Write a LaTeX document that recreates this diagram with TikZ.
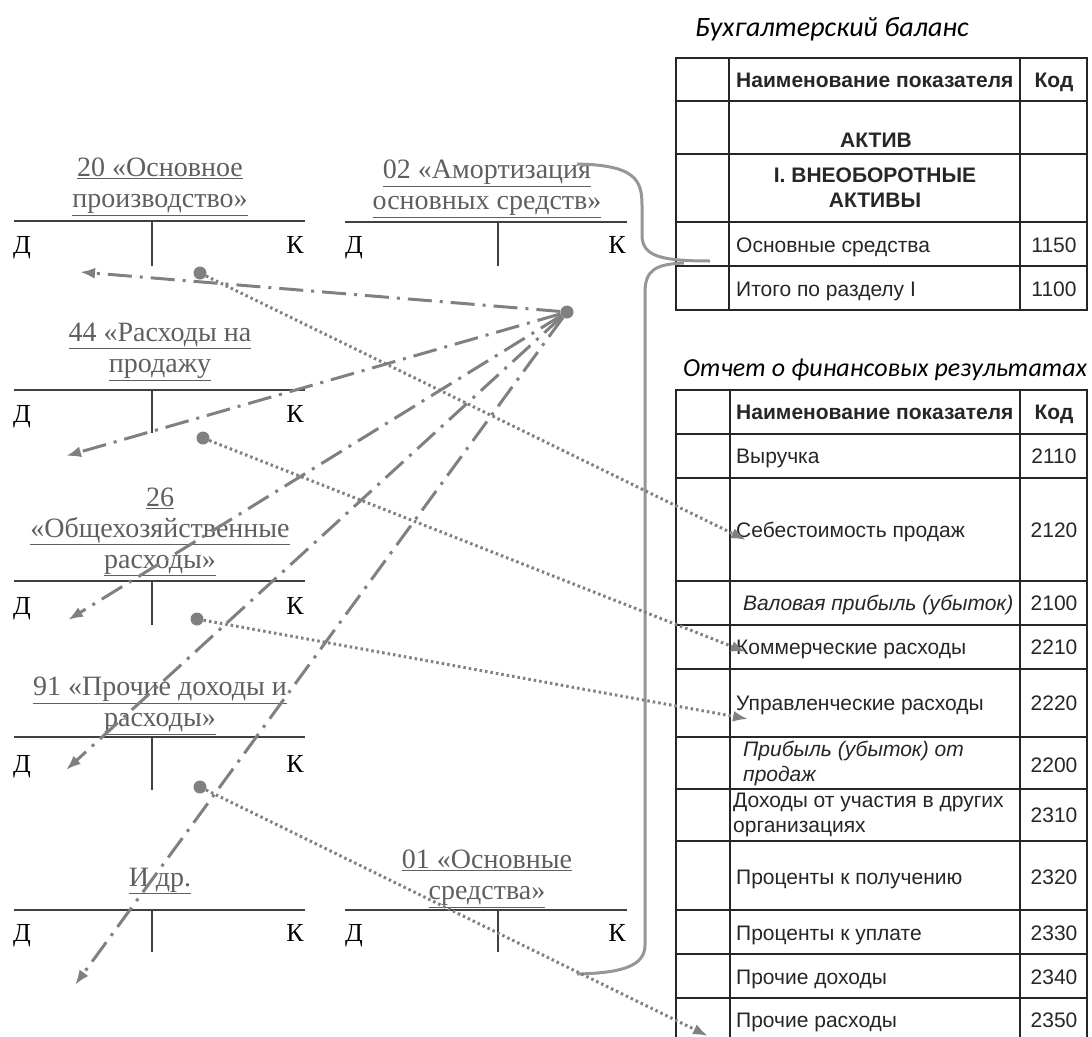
\documentclass[tikz,border=0pt]{standalone}
\usepackage{fontspec}
\setmainfont{Liberation Serif}
\newfontfamily\tablefont{Liberation Sans}
\newfontfamily\capfont{Carlito}
\usetikzlibrary{arrows.meta}
\definecolor{arrowgray}{RGB}{128,128,128}
\definecolor{titlegray}{RGB}{95,95,95}
\definecolor{bracegray}{RGB}{150,150,150}
\tikzset{
  acctitle/.style={align=center, text=titlegray, font=\fontsize{28}{31}\selectfont, inner sep=0pt},
  dk/.style={font=\fontsize{26}{30}\selectfont, inner sep=0pt, anchor=base},
  tline/.style={line width=2pt, draw=black!75},
  grid/.style={line width=1.6pt, draw=black!85},
  cell/.style={font=\tablefont\fontsize{21}{25}\selectfont, anchor=base west, inner sep=0pt, text=black!85},
  twocell/.style={font=\tablefont\fontsize{21}{25}\selectfont, anchor=west, inner sep=0pt, text=black!85, align=left},
  bcell/.style={font=\tablefont\bfseries\fontsize{21}{25}\selectfont, inner sep=0pt, text=black!85, align=center},
  icell/.style={font=\tablefont\itshape\fontsize{21}{25}\selectfont, anchor=base west, inner sep=0pt, text=black!85},
  twoicell/.style={font=\tablefont\itshape\fontsize{21}{25}\selectfont, anchor=west, inner sep=0pt, text=black!85, align=left},
  code/.style={font=\tablefont\fontsize{21}{25}\selectfont, inner sep=0pt, text=black!85, anchor=base},
  caption/.style={font=\capfont\itshape\fontsize{28}{30}\selectfont, anchor=base west, inner sep=0pt},
  dashdot/.style={line width=3pt, draw=arrowgray, dash pattern=on 24pt off 8pt on 3pt off 8pt, -{Latex[length=15pt,width=11pt]}},
  dots/.style={line width=3pt, draw=arrowgray, dash pattern=on 2.5pt off 3pt, -{Latex[length=15pt,width=11pt]}},
  dot/.style={circle, fill=arrowgray, inner sep=0pt, minimum size=13pt},
  brace/.style={line width=3pt, draw=bracegray}
}
\begin{document}
\begin{tikzpicture}[x=1pt,y=-1pt]
\useasboundingbox (0,0) rectangle (1092,1036);

%Accounts
\node[acctitle] (t20) at (160,187) {\underline{20 «Основное}\\\underline{производство»}};
\node[acctitle] (t02) at (487,189) {\underline{02 «Амортизация}\\\underline{основных средств»}};
\node[acctitle] (t44) at (160,352) {\underline{44 «Расходы на}\\\underline{продажу}};
\node[acctitle] (t26) at (160,532) {\underline{26}\\\underline{«Общехозяйственные}\\\underline{расходы»}};
\node[acctitle] (t91) at (160,706) {\underline{91 «Прочие доходы и}\\\underline{расходы»}};
\node[acctitle] (tdr) at (160,881) {\underline{И др.}};
\node[acctitle] (t01) at (487,879) {\underline{01 «Основные}\\\underline{средства»}};

\node[dk] (d20) at (22,253) {Д};
\node[dk] (k20) at (295,253) {К};
\node[dk] (d02) at (354,253) {Д};
\node[dk] (k02) at (617,253) {К};
\node[dk] (d44) at (22,422) {Д};
\node[dk] (k44) at (295,422) {К};
\node[dk] (d26) at (22,614) {Д};
\node[dk] (k26) at (295,614) {К};
\node[dk] (d91) at (22,772) {Д};
\node[dk] (k91) at (295,772) {К};
\node[dk] (ddr) at (22,941) {Д};
\node[dk] (kdr) at (295,941) {К};
\node[dk] (d01) at (354,941) {Д};
\node[dk] (k01) at (617,941) {К};

\draw[tline] (14,221) -- (305,221);
\draw[tline] (152,221) -- (152,266);
\draw[tline] (345,222) -- (627,222);
\draw[tline] (498,222) -- (498,266);
\draw[tline] (14,390) -- (305,390);
\draw[tline] (152,390) -- (152,433);
\draw[tline] (14,581) -- (305,581);
\draw[tline] (152,581) -- (152,625);
\draw[tline] (14,737) -- (305,737);
\draw[tline] (152,737) -- (152,790);
\draw[tline] (14,910) -- (305,910);
\draw[tline] (152,910) -- (152,952);
\draw[tline] (345,910) -- (627,910);
\draw[tline] (498,910) -- (498,952);

%Balance
\node[caption] (cap1) at (695,36) {Бухгалтерский баланс};
\draw[grid] (676,58) rectangle (1087,310);
\draw[grid] (729,58) -- (729,310);
\draw[grid] (1020,58) -- (1020,310);
\draw[grid] (676,101) -- (1087,101);
\draw[grid] (676,154) -- (1087,154);
\draw[grid] (676,222) -- (1087,222);
\draw[grid] (676,266) -- (1087,266);
\node[bcell, anchor=base west] (h1) at (736,87) {Наименование показателя};
\node[bcell, anchor=base] (hk1) at (1054,87) {Код};
\node[bcell, anchor=base] (aktiv) at (876,147) {АКТИВ};
\node[bcell] (razd1) at (875,188) {I. ВНЕОБОРОТНЫЕ\\АКТИВЫ};
\node[cell] (os) at (736,252) {Основные средства};
\node[code] (c1150) at (1054,252) {1150};
\node[cell] (itogo) at (736,296) {Итого по разделу I};
\node[code] (c1100) at (1054,296) {1100};

%Results
\node[caption, font=\capfont\itshape\fontsize{26}{30}\selectfont] (cap2) at (683,376) {Отчет о финансовых результатах};
\draw[grid] (676,1040) -- (676,390) -- (1087,390) -- (1087,1040);
\draw[grid] (730,390) -- (730,1040);
\draw[grid] (1020,390) -- (1020,1040);
\draw[grid] (676,434) -- (1087,434);
\draw[grid] (676,478) -- (1087,478);
\draw[grid] (676,581) -- (1087,581);
\draw[grid] (676,625) -- (1087,625);
\draw[grid] (676,669) -- (1087,669);
\draw[grid] (676,737) -- (1087,737);
\draw[grid] (676,789) -- (1087,789);
\draw[grid] (676,841) -- (1087,841);
\draw[grid] (676,910) -- (1087,910);
\draw[grid] (676,954) -- (1087,954);
\draw[grid] (676,998) -- (1087,998);
\node[bcell, anchor=base west] (h2) at (736,419) {Наименование показателя};
\node[bcell, anchor=base] (hk2) at (1054,419) {Код};
\node[cell] (r2110) at (736,463) {Выручка};
\node[code] (c2110) at (1054,463) {2110};
\node[cell] (r2120) at (736,537) {Себестоимость продаж};
\node[code] (c2120) at (1054,537) {2120};
\node[icell] (r2100) at (743,610) {Валовая прибыль (убыток)};
\node[code] (c2100) at (1054,610) {2100};
\node[cell] (r2210) at (736,654) {Коммерческие расходы};
\node[code] (c2210) at (1054,654) {2210};
\node[cell] (r2220) at (736,710) {Управленческие расходы};
\node[code] (c2220) at (1054,710) {2220};
\node[twoicell] (r2200) at (743,763) {Прибыль (убыток) от\\продаж};
\node[code] (c2200) at (1054,772) {2200};
\node[twocell] (r2310) at (733,815) {Доходы от участия в других\\организациях};
\node[code] (c2310) at (1054,822) {2310};
\node[cell] (r2320) at (736,884) {Проценты к получению};
\node[code] (c2320) at (1054,884) {2320};
\node[cell] (r2330) at (736,940) {Проценты к уплате};
\node[code] (c2330) at (1054,940) {2330};
\node[cell] (r2340) at (736,984) {Прочие доходы};
\node[code] (c2340) at (1054,984) {2340};
\node[cell] (r2350) at (736,1027) {Прочие расходы};
\node[code] (c2350) at (1054,1027) {2350};

%Brace
\draw[brace] (577,164) .. controls (635,165) and (642,180) .. (642,205) -- (642,235) .. controls (642,256) and (660,261) .. (710,261);
\draw[brace] (684,263) .. controls (656,264) and (645,270) .. (645,292) -- (645,945) .. controls (645,966) and (622,973) .. (577,974);

%Arrows
\node[dot] (hub) at (567,312) {};
\coordinate (e20) at (80,272);
\coordinate (e44) at (66,456);
\coordinate (e26) at (68,620);
\coordinate (e91) at (66,770);
\coordinate (edr) at (75,985);
\draw[dashdot] (hub) -- (e20);
\draw[dashdot] (hub) -- (e44);
\draw[dashdot] (hub) -- (e26);
\draw[dashdot] (hub) -- (e91);
\draw[dashdot] (hub) -- (edr);

\node[dot] (s20) at (200,273) {};
\node[dot] (s44) at (203,438) {};
\node[dot] (s26) at (197,619) {};
\node[dot] (s91) at (200,787) {};
\coordinate (f2120) at (746,540);
\coordinate (f2210) at (746,652);
\coordinate (f2220) at (748,719);
\coordinate (f2350) at (708,1036);
\draw[dots] (s20) -- (f2120);
\draw[dots] (s44) -- (f2210);
\draw[dots] (s26) -- (f2220);
\draw[dots] (s91) -- (f2350);
\end{tikzpicture}
\end{document}
